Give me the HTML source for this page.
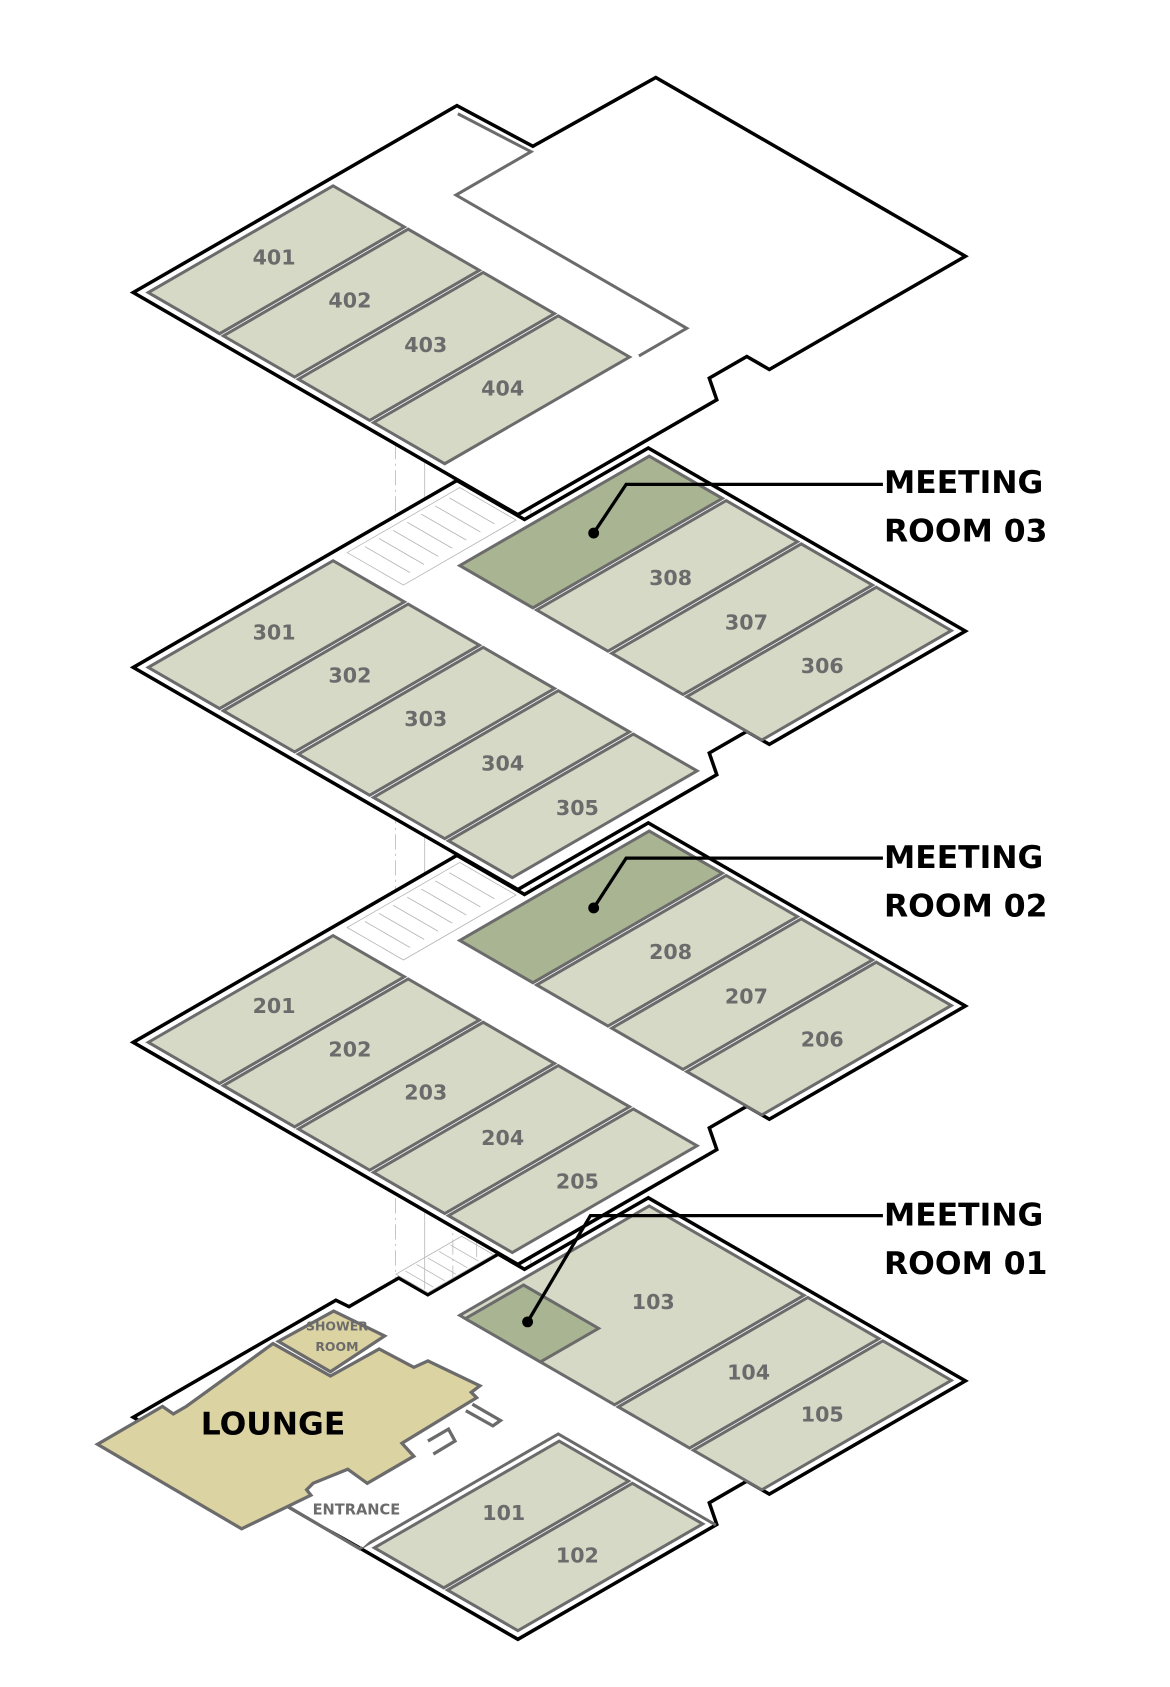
<!DOCTYPE html>
<html><head><meta charset="utf-8">
<style>
html,body{margin:0;padding:0;background:#fff;}
svg{display:block;}
.iso *{vector-effect:non-scaling-stroke;}
.rm{fill:#d5d9c6;stroke:#6b6b6b;stroke-width:3;}
.mt{fill:#a9b492;stroke:#6b6b6b;stroke-width:3;}
.out{fill:#fff;stroke:#000;stroke-width:3.5;stroke-linejoin:miter;}
.gl{fill:none;stroke:#6b6b6b;stroke-width:3;}
.th{fill:none;stroke:#b5b5b5;stroke-width:0.8;}
.lbl{font-family:"DejaVu Sans","Liberation Sans",sans-serif;font-weight:bold;font-size:19px;fill:#6b6b6b;text-anchor:middle;}
.big{font-family:"DejaVu Sans","Liberation Sans",sans-serif;font-weight:bold;font-size:29px;fill:#000;}
</style></head><body>
<svg width="1170" height="1687" viewBox="0 0 1080 1557" preserveAspectRatio="none" xmlns="http://www.w3.org/2000/svg">
<rect width="1080" height="1557" fill="#fff"/>

<g stroke="#bdbdbd" stroke-width="0.8" fill="none">
<line x1="365" y1="410" x2="365" y2="1195" stroke-dasharray="14,4,2,4"/>
<line x1="392" y1="400" x2="392" y2="1190"/>
<line x1="418" y1="400" x2="418" y2="1195" stroke-dasharray="14,4,2,4"/>
<line x1="440" y1="395" x2="440" y2="1160"/>
<line x1="490" y1="440" x2="490" y2="1190" stroke-dasharray="14,4,2,4"/>
</g>

<!-- ===== 1F ===== -->
<g class="iso" transform="matrix(0.866,0.5,0.866,-0.5,123,1308)">
<polygon class="out" points="0,0 0,216 13,217 13,270 44,270 44,345 72,345 72,477 410,477 410,268 386,268 386,228 410,212 410,0"/>
<g class="th"><line x1="10" y1="280" x2="40" y2="280"/><line x1="10" y1="292" x2="40" y2="292"/><line x1="10" y1="304" x2="40" y2="304"/><line x1="10" y1="316" x2="40" y2="316"/><line x1="10" y1="328" x2="40" y2="328"/><rect x="8" y="272" width="34" height="70"/></g>
<rect class="rm" x="80" y="268" width="165" height="202"/>
<rect class="rm" x="249" y="268" width="76" height="202"/>
<rect class="rm" x="329" y="268" width="73" height="202"/>
<rect class="mt" x="86" y="268" width="80" height="62"/>
<polyline class="gl" points="242,0 242,211 410,211"/>
<rect class="rm" x="249" y="8" width="74" height="197"/>
<rect class="rm" x="327" y="8" width="75" height="197"/>
</g>
<polygon points="265,1390 289,1369 321,1356 339,1369 382,1344 371,1332 435,1285 470,1305 335,1428" fill="#fff"/>
<polyline points="265,1390 333,1430" fill="none" stroke="#6b6b6b" stroke-width="3"/>
<polyline points="436,1296 462,1311 455,1316 430,1302" fill="none" stroke="#6b6b6b" stroke-width="3"/>
<polyline points="395,1330 414,1319 420,1330 400,1342" fill="none" stroke="#6b6b6b" stroke-width="3"/>
<polygon points="90,1333 150,1298 160,1305 172,1298 252,1240 305,1270 350,1245 382,1262 395,1256 443,1279 435,1285 440,1290 371,1332 382,1344 339,1369 321,1356 289,1369 283,1375 287,1380 223,1411" fill="#dcd3a2" stroke="#6b6b6b" stroke-width="3" stroke-linejoin="miter"/>
<polygon points="257,1238 308,1210 355,1233 305,1266" fill="#dcd3a2" stroke="#6b6b6b" stroke-width="3"/>

<!-- ===== 2F ===== -->
<g class="iso" transform="matrix(0.866,0.5,0.866,-0.5,123,962)">
<polygon class="out" points="0,0 0,345 72,345 72,477 410,477 410,268 386,268 386,228 410,212 410,0"/>
<g class="th"><rect x="8" y="220" width="60" height="120"/><line x1="12" y1="235" x2="60" y2="235"/><line x1="12" y1="250" x2="60" y2="250"/><line x1="12" y1="265" x2="60" y2="265"/><line x1="12" y1="280" x2="60" y2="280"/><line x1="12" y1="295" x2="60" y2="295"/><line x1="12" y1="310" x2="60" y2="310"/><line x1="12" y1="325" x2="60" y2="325"/></g>
<rect class="mt" x="80" y="268" width="78" height="202"/>
<rect class="rm" x="162" y="268" width="76" height="202"/>
<rect class="rm" x="242" y="268" width="76" height="202"/>
<rect class="rm" x="322" y="268" width="80" height="202"/>
<rect class="rm" x="8" y="8" width="76" height="197"/>
<rect class="rm" x="88" y="8" width="76" height="197"/>
<rect class="rm" x="168" y="8" width="76" height="197"/>
<rect class="rm" x="248" y="8" width="76" height="197"/>
<rect class="rm" x="328" y="8" width="68" height="197"/>
</g>

<!-- ===== 3F ===== -->
<g class="iso" transform="matrix(0.866,0.5,0.866,-0.5,123,616)">
<polygon class="out" points="0,0 0,345 72,345 72,477 410,477 410,268 386,268 386,228 410,212 410,0"/>
<g class="th"><rect x="8" y="220" width="60" height="120"/><line x1="12" y1="235" x2="60" y2="235"/><line x1="12" y1="250" x2="60" y2="250"/><line x1="12" y1="265" x2="60" y2="265"/><line x1="12" y1="280" x2="60" y2="280"/><line x1="12" y1="295" x2="60" y2="295"/><line x1="12" y1="310" x2="60" y2="310"/><line x1="12" y1="325" x2="60" y2="325"/></g>
<rect class="mt" x="80" y="268" width="78" height="202"/>
<rect class="rm" x="162" y="268" width="76" height="202"/>
<rect class="rm" x="242" y="268" width="76" height="202"/>
<rect class="rm" x="322" y="268" width="80" height="202"/>
<rect class="rm" x="8" y="8" width="76" height="197"/>
<rect class="rm" x="88" y="8" width="76" height="197"/>
<rect class="rm" x="168" y="8" width="76" height="197"/>
<rect class="rm" x="248" y="8" width="76" height="197"/>
<rect class="rm" x="328" y="8" width="68" height="197"/>
</g>

<!-- ===== 4F ===== -->
<g class="iso" transform="matrix(0.866,0.5,0.866,-0.5,123,270)">
<polygon class="out" points="0,0 0,345 78,348 80,477 410,477 410,268 386,268 386,228 410,212 410,0"/>
<polyline class="gl" points="8,338 82,342 82,262 328,262 328,211"/>
<rect class="rm" x="8" y="8" width="76" height="197"/>
<rect class="rm" x="88" y="8" width="76" height="197"/>
<rect class="rm" x="168" y="8" width="76" height="197"/>
<rect class="rm" x="248" y="8" width="76" height="197"/>
</g>

<g class="lbl">
<text x="253" y="244">401</text><text x="323" y="284">402</text><text x="393" y="325">403</text><text x="464" y="365">404</text>
<text x="253" y="590">301</text><text x="323" y="630">302</text><text x="393" y="670">303</text><text x="464" y="711">304</text><text x="533" y="752">305</text>
<text x="619" y="540">308</text><text x="689" y="581">307</text><text x="759" y="621">306</text>
<text x="253" y="935">201</text><text x="323" y="975">202</text><text x="393" y="1015">203</text><text x="464" y="1057">204</text><text x="533" y="1097">205</text>
<text x="619" y="885">208</text><text x="689" y="926">207</text><text x="759" y="966">206</text>
<text x="603" y="1208">103</text><text x="691" y="1273">104</text><text x="759" y="1312">105</text>
<text x="465" y="1403">101</text><text x="533" y="1442">102</text>
</g>
<g font-family="DejaVu Sans,Liberation Sans,sans-serif" font-weight="bold" fill="#6b6b6b" text-anchor="middle">
<text x="311" y="1228" font-size="11.5">SHOWER</text><text x="311" y="1247" font-size="11.5">ROOM</text>
<text x="329" y="1398" font-size="13.5">ENTRANCE</text>
</g>
<text x="252" y="1324" class="big" text-anchor="middle">LOUNGE</text>

<g stroke="#000" stroke-width="3" fill="none">
<polyline points="815,447 578,447 548,492"/>
<polyline points="815,792 578,792 548,838"/>
<polyline points="815,1122 545,1122 487,1220"/>
</g>
<circle cx="548" cy="492" r="5" fill="#000"/>
<circle cx="548" cy="838" r="5" fill="#000"/>
<circle cx="487" cy="1220" r="5" fill="#000"/>
<g class="big">
<text x="816" y="455">MEETING</text><text x="816" y="500">ROOM 03</text>
<text x="816" y="801">MEETING</text><text x="816" y="846">ROOM 02</text>
<text x="816" y="1131">MEETING</text><text x="816" y="1176">ROOM 01</text>
</g>
</svg>
</body></html>
